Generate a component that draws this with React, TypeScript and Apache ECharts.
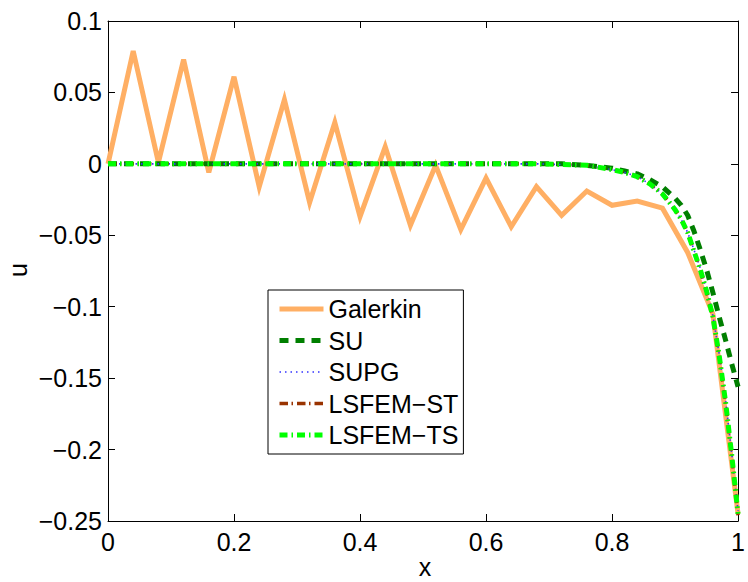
import React, { useEffect, useRef } from "react";
import * as echarts from "echarts";

// Coarse grid (Galerkin)
const xCoarse = [0, 0.04, 0.08, 0.12, 0.16, 0.2, 0.24, 0.28, 0.32, 0.36, 0.4, 0.44, 0.48, 0.52, 0.56, 0.6, 0.64, 0.68, 0.72, 0.76, 0.8, 0.84, 0.88, 0.92, 0.96, 1.0];
const galerkin = [0, 0.079, 0.001, 0.073, -0.006, 0.061, -0.016, 0.045, -0.027, 0.029, -0.037, 0.012, -0.043, -0.001, -0.046, -0.01, -0.044, -0.016, -0.036, -0.019, -0.029, -0.026, -0.031, -0.062, -0.105, -0.245];

// Fine grid (stabilised methods)
const xFine = [0, 0.04, 0.08, 0.12, 0.16, 0.2, 0.24, 0.28, 0.32, 0.36, 0.4, 0.44, 0.48, 0.52, 0.56, 0.6, 0.64, 0.68, 0.72, 0.76, 0.8, 0.82, 0.84, 0.86, 0.88, 0.9, 0.91, 0.92, 0.93, 0.94, 0.95, 0.96, 0.97, 0.98, 0.99, 1.0];
const su = [0, 0, 0, 0, 0, 0, 0, 0, 0, 0, 0, 0, 0, 0, 0, 0, 0, 0, 0, -0.001, -0.003, -0.005, -0.007, -0.011, -0.016, -0.024, -0.029, -0.036, -0.047, -0.06, -0.074, -0.09, -0.107, -0.123, -0.14, -0.156];
const supg = [0, 0, 0, 0, 0, 0, 0, 0, 0, 0, 0, 0, 0, 0, 0, 0, 0, 0, -0.0005, -0.001, -0.004, -0.006, -0.009, -0.014, -0.021, -0.032, -0.039, -0.048, -0.06, -0.073, -0.088, -0.106, -0.133, -0.165, -0.203, -0.243];
const lsfemST = [0, 0, 0, 0, 0, 0, 0, 0, 0, 0, 0, 0, 0, 0, 0, 0, 0, 0, -0.0005, -0.001, -0.004, -0.006, -0.009, -0.014, -0.021, -0.032, -0.039, -0.048, -0.061, -0.074, -0.089, -0.107, -0.134, -0.166, -0.205, -0.246];
const lsfemTS = [0, 0, 0, 0, 0, 0, 0, 0, 0, 0, 0, 0, 0, 0, 0, 0, 0, 0, -0.0005, -0.001, -0.004, -0.006, -0.009, -0.014, -0.021, -0.032, -0.039, -0.048, -0.061, -0.074, -0.089, -0.107, -0.134, -0.166, -0.204, -0.245];

const seriesNames = ["Galerkin", "SU", "SUPG", "LSFEM\u2212ST", "LSFEM\u2212TS"];
const xTicks = { min: 0, max: 1, interval: 0.2 };
const yTicks = { min: -0.25, max: 0.1, interval: 0.05 };

const FONT = "'Liberation Sans', Arial, Helvetica, sans-serif";

const pairs = (xs: number[], ys: number[]) => xs.map((x, i) => [x, ys[i]]);
const fmt = (v: number) => String(Math.round(v * 1000) / 1000).replace("-", "\u2212");

export default function App() {
  const ref = useRef<HTMLDivElement>(null);
  useEffect(() => {
    if (!ref.current) return;
    const chart = echarts.init(ref.current, undefined, { renderer: "svg" });
    const axisCommon = {
      type: "value" as const,
      axisLine: { show: true, onZero: false, lineStyle: { color: "#000", width: 1 } },
      axisTick: { show: true, inside: true, length: 7, lineStyle: { color: "#000", width: 1 } },
      splitLine: { show: false },
    };
    const labelStyle = { fontSize: 25, color: "#000", fontFamily: FONT };
    chart.setOption({
      animation: false,
      backgroundColor: "#fff",
      grid: { left: 108, top: 21, width: 636, height: 500, show: false },
      xAxis: [
        { ...axisCommon, ...xTicks, position: "bottom", axisLabel: { ...labelStyle, margin: 8, formatter: fmt } },
        { ...axisCommon, ...xTicks, position: "top", axisLabel: { show: false } },
      ],
      yAxis: [
        { ...axisCommon, ...yTicks, position: "left", axisLabel: { ...labelStyle, margin: 6, formatter: fmt } },
        { ...axisCommon, ...yTicks, position: "right", axisLabel: { show: false } },
      ],
      legend: {
        orient: "vertical",
        left: 268,
        top: 290,
        padding: [6.5, 5, 6.5, 9],
        itemGap: 6.5,
        itemWidth: 44,
        itemHeight: 14,
        backgroundColor: "#fff",
        borderColor: "#000",
        borderWidth: 1,
        selectedMode: false,
        itemStyle: { opacity: 0 },
        lineStyle: { width: "inherit" },
        textStyle: { fontSize: 25, color: "#000", fontFamily: FONT, lineHeight: 25 },
        data: seriesNames,
      },
      series: [
        {
          name: seriesNames[0], type: "line", symbol: "none", data: pairs(xCoarse, galerkin),
          lineStyle: { color: "#FFAF64", width: 5, type: "solid", join: "miter" }, itemStyle: { color: "#FFAF64" },
        },
        {
          name: seriesNames[1], type: "line", symbol: "none", data: pairs(xFine, su),
          lineStyle: { color: "#007F00", width: 5, type: [9, 7] }, itemStyle: { color: "#007F00" },
        },
        {
          name: seriesNames[2], type: "line", symbol: "none", data: pairs(xFine, supg),
          lineStyle: { color: "#3333FF", width: 1.6, type: [1.5, 4] }, itemStyle: { color: "#3333FF" },
        },
        {
          name: seriesNames[3], type: "line", symbol: "none", data: pairs(xFine, lsfemST),
          lineStyle: { color: "#993300", width: 3.5, type: [8.5, 3.5, 1.5, 4] }, itemStyle: { color: "#993300" },
        },
        {
          name: seriesNames[4], type: "line", symbol: "none", data: pairs(xFine, lsfemTS),
          lineStyle: { color: "#00FF00", width: 5, type: [8, 4, 1.5, 4] }, itemStyle: { color: "#00FF00" },
        },
      ],
      graphic: [
        { type: "text", x: 425, y: 567, style: { text: "x", font: `25px ${FONT}`, fill: "#000", align: "center", verticalAlign: "middle" } },
        { type: "text", x: 18, y: 270, rotation: Math.PI / 2, style: { text: "u", font: `25px ${FONT}`, fill: "#000", align: "center", verticalAlign: "middle" } },
      ],
    });
    return () => chart.dispose();
  }, []);
  return <div ref={ref} style={{ width: 748, height: 582, position: "absolute", left: 0, top: 0 }} />;
}
